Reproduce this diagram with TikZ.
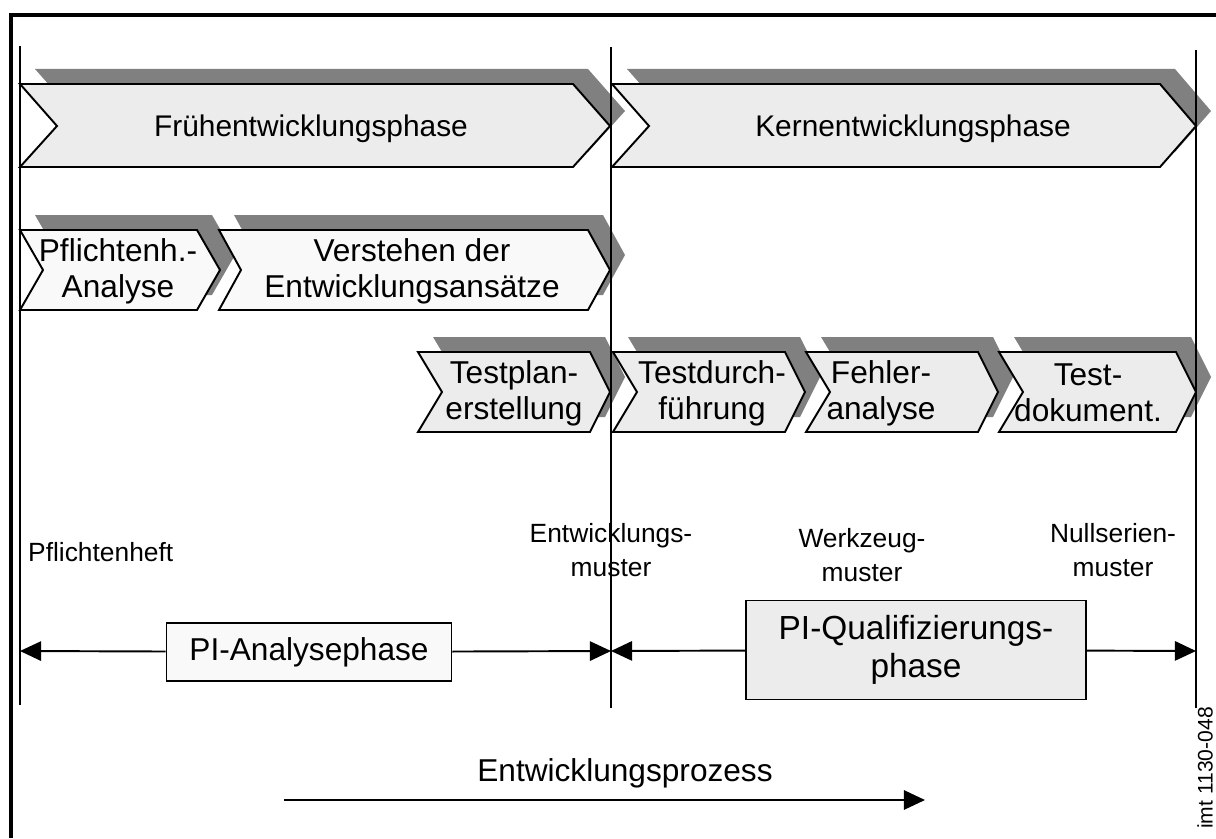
\documentclass[tikz,border=0pt]{standalone}
\usepackage{fontspec}
\setmainfont{Liberation Sans}
\usetikzlibrary{arrows.meta}

\begin{document}
\begin{tikzpicture}[x=0.02cm,y=-0.02cm,
  every node/.style={align=center,font=\fontsize{18}{20.5}\selectfont},
  phase/.style={draw,line width=1.1pt,fill=gray!15},
  subphase/.style={phase,fill=gray!5},
  shade/.style={fill=black!50,shift={(15,-15)}},
  gate/.style={line width=1.1pt},
  span/.style={line width=1.1pt,-{Triangle[length=12pt,width=11pt]}},
  milestone/.style={font=\fontsize{15}{19.5}\selectfont},
  pibox/.style={draw,line width=1.1pt}]
\useasboundingbox (0,0) rectangle (1216,838);
% frame
\draw[line width=2.3pt] (11,838) -- (11,15) -- (1216,15);
% main phases
\fill[shade] (20,84) -- (573,84) -- (610,126) -- (573,167) -- (20,167) -- (57,126) -- cycle;
\draw[phase] (20,84) -- (573,84) -- (610,126) -- (573,167) -- (20,167) -- (57,126) -- cycle;
\fill[shade] (612,84) -- (1160,84) -- (1196,126) -- (1160,167) -- (612,167) -- (649,126) -- cycle;
\draw[phase] (612,84) -- (1160,84) -- (1196,126) -- (1160,167) -- (612,167) -- (649,126) -- cycle;
\node[font=\fontsize{17}{20}\selectfont] (frueh) at (311,129) {Frühentwicklungsphase};
\node[font=\fontsize{17}{20}\selectfont] (kern) at (913,129) {Kernentwicklungsphase};
% analysis steps
\fill[shade] (20,230) -- (197,230) -- (220,270) -- (197,310) -- (20,310) -- (43,270) -- cycle;
\draw[subphase] (20,230) -- (197,230) -- (220,270) -- (197,310) -- (20,310) -- (43,270) -- cycle;
\fill[shade] (219,230) -- (588,230) -- (610,270) -- (588,310) -- (219,310) -- (241,270) -- cycle;
\draw[subphase] (219,230) -- (588,230) -- (610,270) -- (588,310) -- (219,310) -- (241,270) -- cycle;
\node (pfl) at (118,271) {Pflichtenh.-\\Analyse};
\node (verst) at (412,271) {Verstehen der\\Entwicklungsansätze};
% test steps
\fill[shade] (418,352) -- (590,352) -- (610,392) -- (590,432) -- (418,432) -- (442,392) -- cycle;
\draw[phase] (418,352) -- (590,352) -- (610,392) -- (590,432) -- (418,432) -- (442,392) -- cycle;
\fill[shade] (613,352) -- (785,352) -- (805,392) -- (785,432) -- (613,432) -- (637,392) -- cycle;
\draw[phase] (613,352) -- (785,352) -- (805,392) -- (785,432) -- (613,432) -- (637,392) -- cycle;
\fill[shade] (806,352) -- (978,352) -- (998,392) -- (978,432) -- (806,432) -- (830,392) -- cycle;
\draw[phase] (806,352) -- (978,352) -- (998,392) -- (978,432) -- (806,432) -- (830,392) -- cycle;
\fill[shade] (999,352) -- (1176,352) -- (1196,392) -- (1176,432) -- (999,432) -- (1023,392) -- cycle;
\draw[phase] (999,352) -- (1176,352) -- (1196,392) -- (1176,432) -- (999,432) -- (1023,392) -- cycle;
\node (tplan) at (514,393) {Testplan-\\erstellung};
\node (tdurch) at (712,393) {Testdurch-\\führung};
\node (fehler) at (881,393) {Fehler-\\analyse};
\node (tdok) at (1088,393) {Test-\\dokument.};
% phase gates
\draw[gate] (20,46) -- (20,705);
\draw[gate] (611,47) -- (611,708);
\draw[gate] (1196,50) -- (1196,708);
% milestones
\node[milestone,anchor=west] (heft) at (22,552) {Pflichtenheft};
\node[milestone] (emuster) at (611,550) {Entwicklungs-\\muster};
\node[milestone] (wmuster) at (862,555) {Werkzeug-\\muster};
\node[milestone] (nmuster) at (1113,550) {Nullserien-\\muster};
% PI phases
\coordinate (g0) at (20,651);
\coordinate (g1) at (611,651);
\coordinate (g2) at (1196,651);
\node[pibox,fill=gray!5,minimum width=5.7cm,minimum height=1.16cm] (ana) at (309,652) {PI-Analysephase};
\node[pibox,fill=gray!15,minimum width=6.8cm,minimum height=1.98cm,font=\fontsize{19}{22}\selectfont] (qual) at (916,650) {PI-Qualifizierungs-\\phase};
\draw[span] (ana) -- (g0);
\draw[span] (ana) -- (g1);
\draw[span] (qual) -- (g1);
\draw[span] (qual) -- (g2);
% process direction
\coordinate (p0) at (284,800);
\coordinate (p1) at (925,800);
\draw[span] (p0) -- (p1);
\node (proz) at (625,773) {Entwicklungsprozess};
\node[rotate=90,font=\fontsize{12}{14}\selectfont] (imt) at (1205,768) {imt 1130-048};
\end{tikzpicture}
\end{document}
